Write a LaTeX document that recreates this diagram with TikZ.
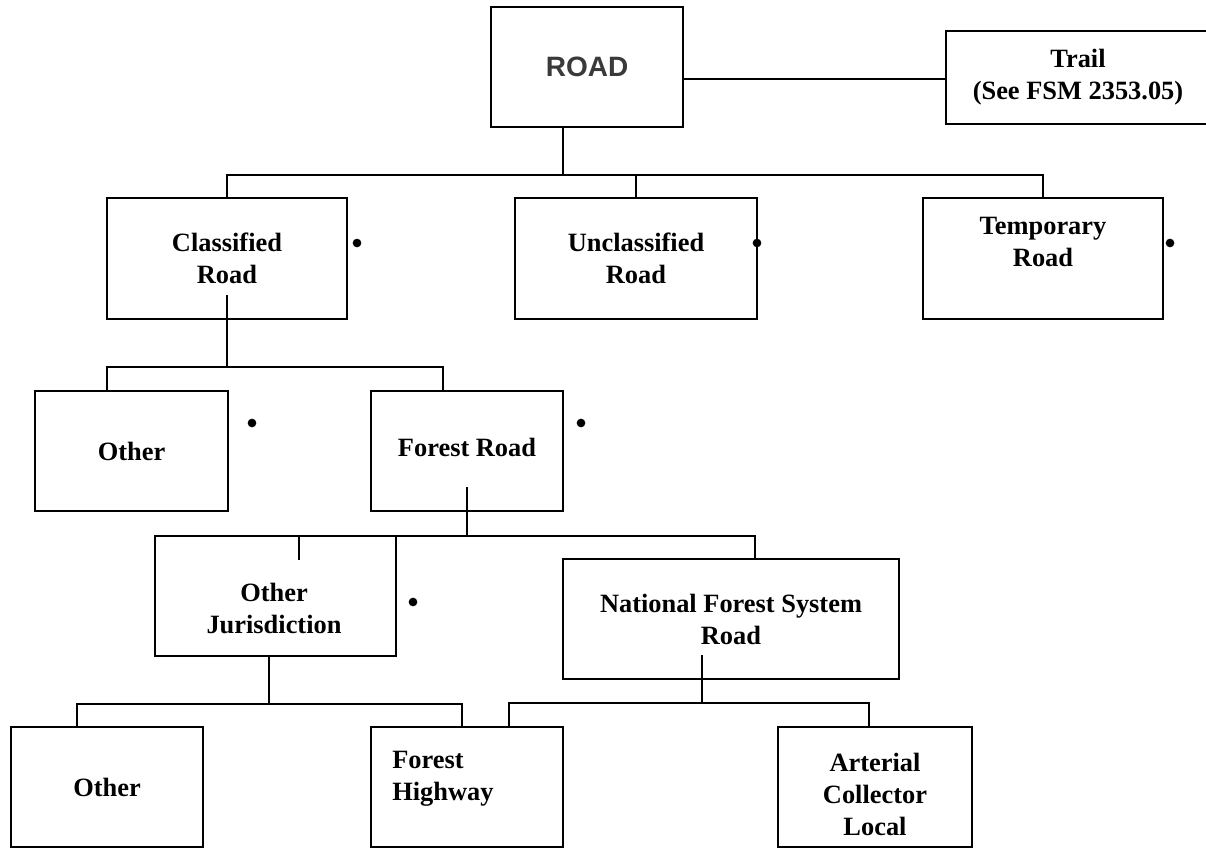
\documentclass[tikz,border=0pt]{standalone}
\usepackage{fontspec}
\setmainfont{Liberation Serif}
\newfontfamily\arialfont{Liberation Sans}
\usetikzlibrary{calc}
\definecolor{roadgray}{HTML}{3A3A3A}
\begin{document}
\begin{tikzpicture}[x=0.75pt,y=-0.75pt,
  box/.style={draw, line width=1.5pt, rectangle, inner sep=0pt, outer sep=0pt, align=center,
              font=\bfseries\fontsize{19.8}{24}\selectfont},
  txt/.style={inner sep=0pt, font=\bfseries\fontsize{19.8}{24}\selectfont},
  dot/.style={circle, fill, inner sep=0pt, minimum size=6.5pt},
  conn/.style={line width=1.5pt}]
\useasboundingbox (0,0) rectangle (1206,848);

% level 0
\node[box, minimum width=144pt, minimum height=90pt,
      font=\arialfont\bfseries\fontsize{21}{25}\selectfont, text=roadgray] (road) at (587,67) {ROAD};
\node[box, minimum width=198pt, minimum height=69.75pt] (trail) at (1078,77.5) {Trail\\(See FSM 2353.05)};

% level 1
\node[box, minimum width=180pt, minimum height=90.75pt] (class) at (227,258.5) {Classified\\Road};
\node[box, minimum width=181.5pt, minimum height=90.75pt] (unclass) at (636,258.5) {Unclassified\\Road};
\node[box, minimum width=180pt, minimum height=90.75pt] (temp) at (1043,258.5) {};
\node[txt, align=center] (temptxt) at (1043,242) {Temporary\\Road};

% level 2
\node[box, minimum width=144.75pt, minimum height=90pt] (other1) at (131.5,451) {Other};
\node[box, minimum width=144pt, minimum height=90pt] (forest) at (467,451) {};
\node[txt] (foresttxt) at (467,447) {Forest Road};

% level 3
\node[box, minimum width=180.75pt, minimum height=90pt] (oj) at (275.5,596) {};
\node[txt, align=center] (ojtxt) at (274,608) {Other\\Jurisdiction};
\node[box, minimum width=252pt, minimum height=90pt] (nfs) at (731,619) {National Forest System\\Road};

% level 4
\node[box, minimum width=144pt, minimum height=90pt] (other2) at (107,787) {Other};
\node[box, minimum width=144pt, minimum height=90pt] (fh) at (467,787) {};
\node[txt, align=left, anchor=west] (fhtxt) at (392,779) {Forest\\Highway};
\node[box, minimum width=145.5pt, minimum height=90pt] (art) at (875,787) {};
\node[txt, align=center] (arttxt) at (875,794) {Arterial\\Collector\\Local};

% dots
\node[dot] (d1) at (357,243) {};
\node[dot] (d2) at (757,243) {};
\node[dot] (d3) at (1170,243) {};
\node[dot] (d4) at (252,423) {};
\node[dot] (d5) at (581,423) {};
\node[dot] (d6) at (413,602) {};

% bus coordinates
\coordinate (trl) at (946,79);
\coordinate (bus1) at (563,175);
\coordinate (bus2l) at (107,367);
\coordinate (bus2r) at (443,367);
\coordinate (bus3r) at (755,536);
\coordinate (ojstub) at (299,536);
\coordinate (bus4l) at (77,704);
\coordinate (bus4r) at (462,704);
\coordinate (bus4s) at (269,704);
\coordinate (bus5l) at (509,703);
\coordinate (bus5r) at (869,703);
\coordinate (bus5s) at (702,703);

% connectors
\draw[conn] (road.east |- trl) -- (trail.west |- trl);
\draw[conn] (road.south -| bus1) -- (bus1);
\draw[conn] (class.north) -- (class.north |- bus1) -- (temp.north |- bus1) -- (temp.north);
\draw[conn] (unclass.north |- bus1) -- (unclass.north);

\draw[conn] ($(class.south)+(0,-24)$) -- (class.south |- bus2l);
\draw[conn] (other1.north -| bus2l) -- (bus2l) -- (bus2r) -- (forest.north -| bus2r);

\draw[conn] ($(forest.south)+(0,-24)$) -- (forest.south |- bus3r);
\draw[conn] (oj.north east |- bus3r) -- (bus3r) -- (nfs.north -| bus3r);
\draw[conn] (ojstub) -- ($(ojstub)+(0,24)$);

\draw[conn] (oj.south -| bus4s) -- (bus4s);
\draw[conn] (other2.north -| bus4l) -- (bus4l) -- (bus4r) -- (fh.north -| bus4r);

\draw[conn] ($(nfs.south -| bus5s)+(0,-24)$) -- (bus5s);
\draw[conn] (fh.north -| bus5l) -- (bus5l) -- (bus5r) -- (art.north -| bus5r);
\end{tikzpicture}
\end{document}
